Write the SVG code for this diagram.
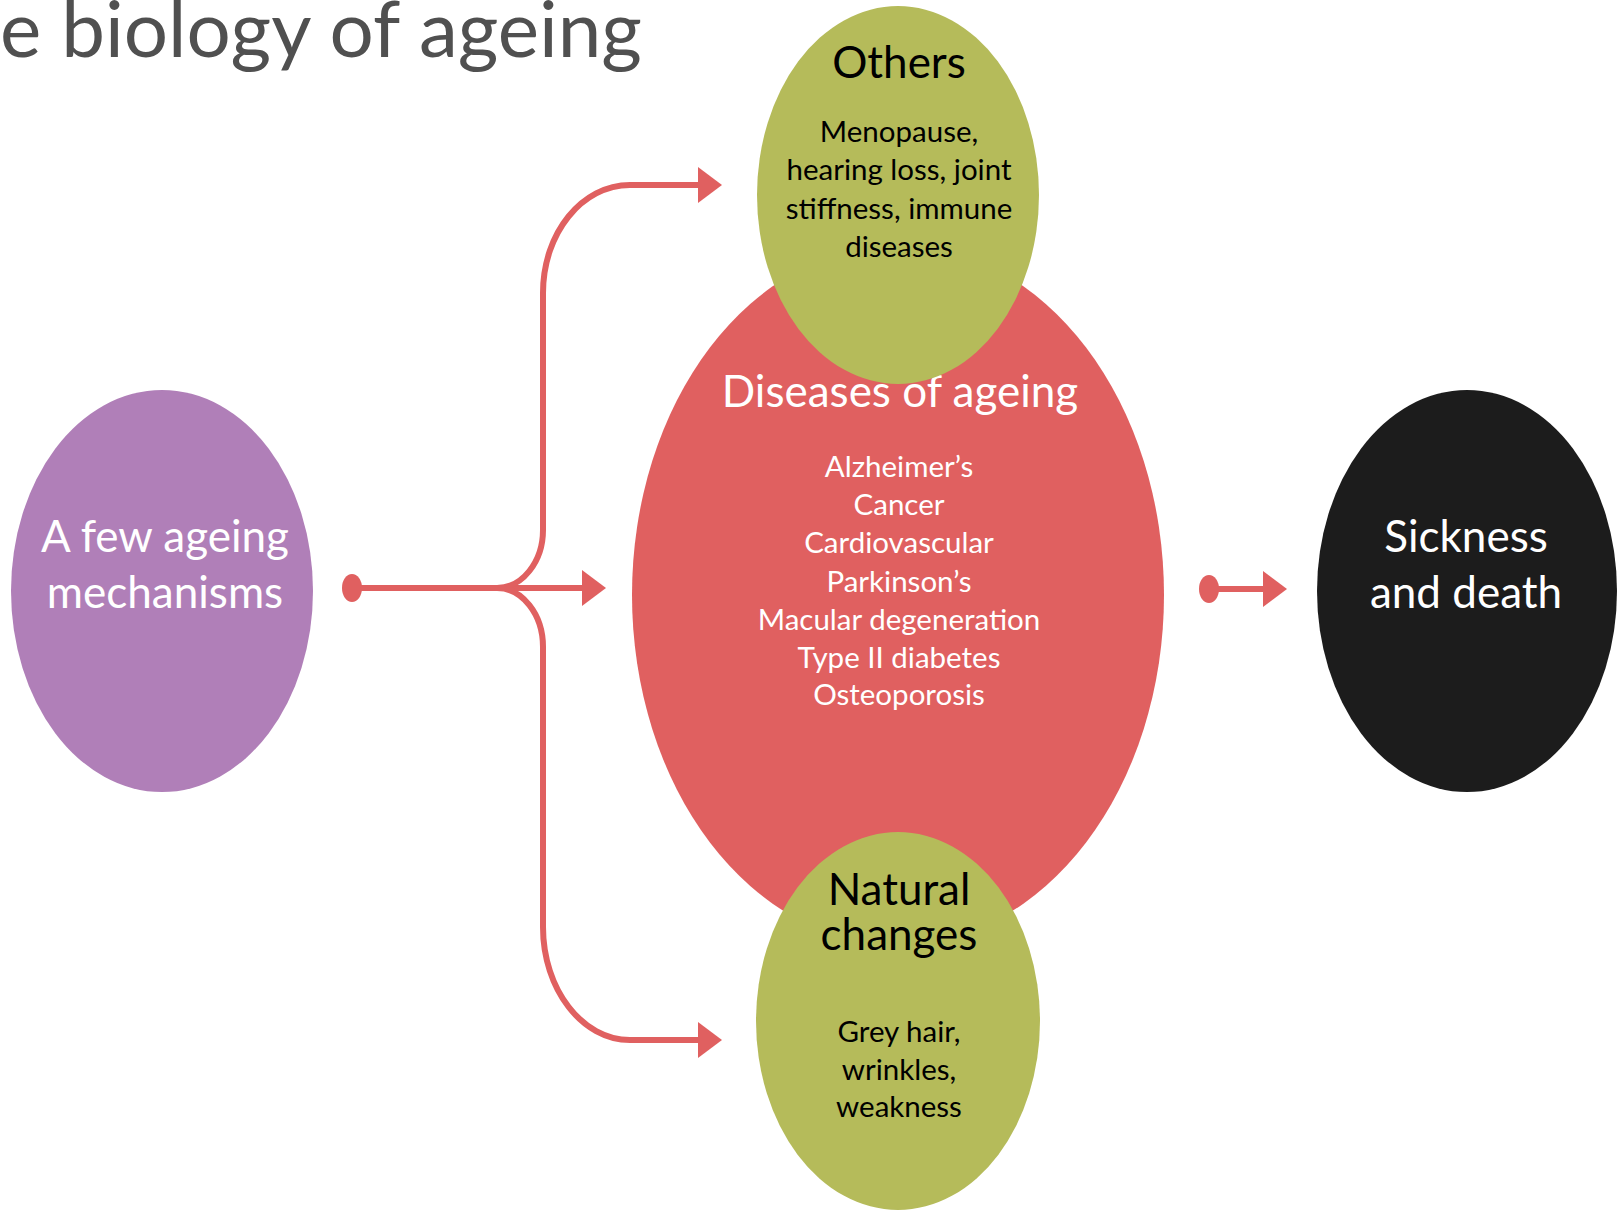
<svg xmlns="http://www.w3.org/2000/svg" width="1623" height="1210" viewBox="0 0 1623 1210">
<style>
text{font-family:Lato,"Open Sans","Liberation Sans",sans-serif;text-anchor:middle}
.w{fill:#ffffff}
.k{fill:#000000}
.big{font-size:44px}
.sm{font-size:29.5px}
.conn{fill:none;stroke:#E06060;stroke-width:6}
</style>
<defs>
<marker id="arrow" markerUnits="userSpaceOnUse" markerWidth="24" markerHeight="36" viewBox="0 0 24 36" refX="0" refY="18" orient="auto"><path d="M0 0 L24 18 L0 36 Z" fill="#E06060"/></marker>
<marker id="dot" markerUnits="userSpaceOnUse" markerWidth="22" markerHeight="30" viewBox="-11 -15 22 30" refX="0" refY="0" orient="auto"><ellipse cx="0" cy="0" rx="10" ry="14" fill="#E06060"/></marker>
</defs>
<rect width="1623" height="1210" fill="#ffffff"/>
<text x="0" y="57" style="text-anchor:start;font-size:78px" fill="#505050" textLength="642" lengthAdjust="spacingAndGlyphs">e biology of ageing</text>

<g id="connectors">
<path class="conn" d="M352 588 H582" marker-start="url(#dot)" marker-end="url(#arrow)"/>
<path class="conn" d="M497 588 C522 588 543 562 543 530 V293 C543 233 582 185 630 185 H698" marker-end="url(#arrow)"/>
<path class="conn" d="M497 588 C522 588 543 614 543 647 V927 C543 989 582 1040 630 1040 H698" marker-end="url(#arrow)"/>
<path class="conn" d="M1209 589 H1263" marker-start="url(#dot)" marker-end="url(#arrow)"/>
</g>

<g id="mechanisms">
<ellipse cx="162" cy="591" rx="151" ry="201" fill="#B07FB8"/>
<text class="w big" x="165" y="552">A few ageing</text>
<text class="w big" x="165" y="608">mechanisms</text>
</g>

<g id="diseases">
<ellipse cx="898" cy="595" rx="266" ry="350" fill="#E06060"/>
<text class="w big" x="900" y="407">Diseases of ageing</text>
<text class="w sm" x="899" y="477">Alzheimer’s</text>
<text class="w sm" x="899" y="515">Cancer</text>
<text class="w sm" x="899" y="553">Cardiovascular</text>
<text class="w sm" x="899" y="592">Parkinson’s</text>
<text class="w sm" x="899" y="630">Macular degeneration</text>
<text class="w sm" x="899" y="668">Type II diabetes</text>
<text class="w sm" x="899" y="705">Osteoporosis</text>
</g>

<g id="others">
<ellipse cx="898" cy="195" rx="141" ry="189" fill="#B5BB5A"/>
<text class="k big" x="899" y="78">Others</text>
<text class="k sm" x="899" y="142">Menopause,</text>
<text class="k sm" x="899" y="180">hearing loss, joint</text>
<text class="k sm" x="899" y="219">stiffness, immune</text>
<text class="k sm" x="899" y="257">diseases</text>
</g>

<g id="natural">
<ellipse cx="898" cy="1021" rx="142" ry="189" fill="#B5BB5A"/>
<text class="k big" x="899" y="905">Natural</text>
<text class="k big" x="899" y="950">changes</text>
<text class="k sm" x="899" y="1042">Grey hair,</text>
<text class="k sm" x="899" y="1080">wrinkles,</text>
<text class="k sm" x="899" y="1117">weakness</text>
</g>

<g id="sickness">
<ellipse cx="1467" cy="591" rx="150" ry="201" fill="#1C1C1C"/>
<text class="w big" x="1466" y="552">Sickness</text>
<text class="w big" x="1466" y="608">and death</text>
</g>
</svg>
